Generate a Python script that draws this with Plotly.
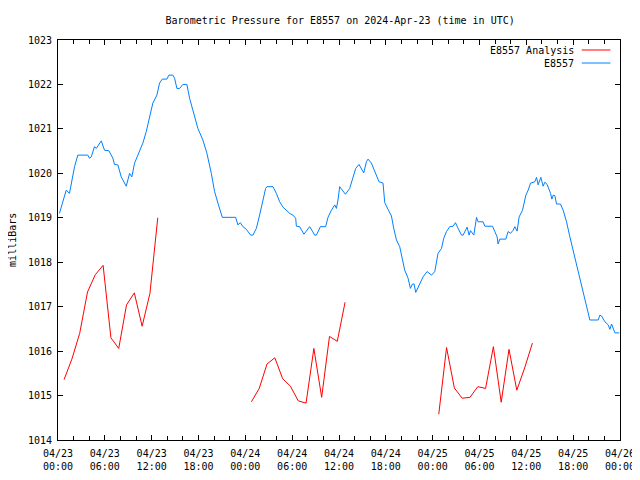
import pandas as pd
import plotly.graph_objects as go

base = pd.Timestamp("2024-04-23 00:00")

# E8557 observed pressure (hours since 04/23 00:00 UTC, mbar)
obs_hours = [0.19, 0.62, 1.05, 1.47, 1.69, 2.12, 2.54, 3.82, 4.04, 4.26, 4.68, 4.90, 5.54, 5.96,
             6.51, 7.03, 7.24, 7.67, 8.10, 8.74, 9.17, 9.46, 9.81, 10.23, 10.87, 11.31, 11.73,
             12.15, 12.67, 13.01, 13.36, 13.95, 14.21, 14.72, 14.94, 15.23, 15.58, 16.0, 16.51,
             16.86, 17.28, 17.92, 18.56, 19.08, 19.64, 20.06, 20.49, 21.05, 22.76, 23.05, 23.36,
             23.69, 24.13, 24.68, 24.97, 25.41, 25.83, 26.26, 26.60, 26.77, 27.54, 27.97, 28.40,
             28.82, 29.26, 29.68, 30.10, 30.45, 30.54, 30.96, 31.51, 31.82, 32.24, 32.59, 32.88,
             33.10, 33.62, 34.29, 34.59, 35.03, 35.45, 35.67, 35.87, 36.09, 36.51, 36.82, 37.37,
             37.79, 38.14, 38.56, 38.74, 39.17, 39.51, 39.72, 40.15, 40.58, 41.13, 41.64, 41.86,
             42.28, 42.72, 43.01, 43.36, 43.78, 44.13, 44.42, 44.85, 45.15, 45.41, 45.62, 45.83,
             46.35, 46.77, 47.28, 47.85, 48.27, 48.49, 48.69, 49.13, 49.42, 49.77, 50.19, 50.62,
             50.92, 51.26, 51.69, 51.90, 52.41, 52.67, 52.85, 53.27, 53.62, 53.82, 54.46, 54.68,
             55.67, 55.96, 56.26, 56.38, 56.60, 57.37, 57.67, 57.97, 58.31, 58.53, 58.82, 59.08,
             59.51, 59.94, 60.23, 60.54, 61.09, 61.31, 61.51, 61.86, 62.15, 62.37, 62.67, 63.10,
             63.27, 63.44, 63.65, 63.87, 64.38, 64.72, 65.15, 65.58, 66.0, 66.44, 66.86, 67.28,
             67.72, 68.14, 69.21, 69.42, 69.64, 70.06, 70.49, 70.71, 70.92, 71.35, 71.90]
obs_mbar = [1019.10, 1019.36, 1019.62, 1019.55, 1019.78, 1020.15, 1020.41, 1020.41, 1020.34,
            1020.37, 1020.60, 1020.56, 1020.73, 1020.52, 1020.51, 1020.34, 1020.20, 1020.19,
            1019.92, 1019.71, 1020.00, 1019.92, 1020.23, 1020.41, 1020.68, 1020.94, 1021.27,
            1021.58, 1021.76, 1022.03, 1022.12, 1022.12, 1022.21, 1022.21, 1022.14, 1021.91,
            1021.91, 1022.00, 1022.00, 1021.69, 1021.42, 1021.01, 1020.75, 1020.45, 1020.00,
            1019.59, 1019.33, 1019.01, 1019.01, 1018.84, 1018.89, 1018.80, 1018.74, 1018.61,
            1018.61, 1018.76, 1019.06, 1019.40, 1019.66, 1019.70, 1019.70, 1019.55, 1019.36,
            1019.24, 1019.17, 1019.10, 1019.06, 1018.99, 1018.81, 1018.80, 1018.63, 1018.70,
            1018.80, 1018.70, 1018.61, 1018.61, 1018.80, 1018.80, 1019.01, 1019.17, 1019.29,
            1019.21, 1019.40, 1019.70, 1019.60, 1019.53, 1019.66, 1019.92, 1020.11, 1020.20,
            1020.15, 1020.01, 1020.26, 1020.32, 1020.23, 1020.04, 1019.81, 1019.78, 1019.34,
            1019.19, 1019.04, 1018.76, 1018.50, 1018.35, 1018.01, 1017.82, 1017.64, 1017.41,
            1017.51, 1017.51, 1017.32, 1017.51, 1017.67, 1017.79, 1017.71, 1017.79, 1018.05,
            1018.20, 1018.31, 1018.54, 1018.69, 1018.80, 1018.81, 1018.89, 1018.76, 1018.61,
            1018.61, 1018.79, 1018.61, 1018.71, 1018.61, 1019.01, 1018.91, 1018.91, 1018.81,
            1018.81, 1018.69, 1018.57, 1018.41, 1018.52, 1018.52, 1018.69, 1018.65, 1018.72,
            1018.80, 1018.70, 1019.02, 1019.17, 1019.51, 1019.62, 1019.78, 1019.81, 1019.91,
            1019.74, 1019.91, 1019.71, 1019.80, 1019.75, 1019.55, 1019.42, 1019.51, 1019.50,
            1019.31, 1019.31, 1019.17, 1018.91, 1018.57, 1018.27, 1017.90, 1017.60, 1017.34,
            1017.04, 1016.70, 1016.70, 1016.81, 1016.79, 1016.66, 1016.59, 1016.49, 1016.61,
            1016.41, 1016.41]

# E8557 Analysis (None = gap between runs)
ana_hours = [0.78, 1.78, 2.78, 3.78, 4.78, 5.78, 6.78, 7.78, 8.78, 9.78, 10.78, 11.78, 12.78, None,
             24.78, 25.78, 26.78, 27.78, 28.78, 29.78, 30.78, 31.78, 32.78, 33.78, 34.78, 35.78, 36.78, None,
             48.78, 49.78, 50.78, 51.78, 52.78, 53.78, 54.78, 55.78, 56.78, 57.78, 58.78, 59.78, 60.78]
ana_mbar = [1015.36, 1015.82, 1016.40, 1017.33, 1017.72, 1017.93, 1016.30, 1016.06, 1017.04, 1017.31,
            1016.56, 1017.30, 1019.00, None,
            1014.86, 1015.16, 1015.71, 1015.85, 1015.38, 1015.21, 1014.88, 1014.83, 1016.06, 1014.96,
            1016.33, 1016.22, 1017.10, None,
            1014.58, 1016.08, 1015.17, 1014.94, 1014.96, 1015.20, 1015.16, 1016.10, 1014.85, 1016.04,
            1015.12, 1015.62, 1016.18]

series_names = ["E8557 Analysis", "E8557"]
series_colors = ["#ff0000", "#0080ff"]

def to_time(h):
    return None if h is None else base + pd.Timedelta(hours=h)

obs_t = [to_time(h) for h in obs_hours]
ana_t = [to_time(h) for h in ana_hours]

FONT = "DejaVu Sans Mono"

fig = go.Figure()
fig.add_trace(go.Scatter(x=ana_t, y=ana_mbar, mode="lines", name=series_names[0],
                         line=dict(color=series_colors[0], width=1), connectgaps=False))
fig.add_trace(go.Scatter(x=obs_t, y=obs_mbar, mode="lines", name=series_names[1],
                         line=dict(color=series_colors[1], width=1)))

# gnuplot-style key: text right-aligned, line sample to its right
key_y = [0.975, 0.9425]
for name, color, ky in zip(series_names, series_colors, key_y):
    fig.add_annotation(x=0.921, y=ky, xref="paper", yref="paper", text=name, showarrow=False,
                       xanchor="right", yanchor="middle", font=dict(family=FONT, size=10, color="black"))
    fig.add_shape(type="line", xref="paper", yref="paper", x0=0.932, x1=0.983, y0=ky, y1=ky,
                  line=dict(color=color, width=1))

fig.add_annotation(x=-0.082, y=0.5, xref="paper", yref="paper", text="milliBars", showarrow=False,
                   textangle=-90, xanchor="center", yanchor="middle",
                   font=dict(family=FONT, size=10, color="black"))

# the page body adds an 8px offset; margins compensate so the plot box sits at 58..620 x 40..440
fig.update_layout(
    width=640, height=480,
    margin=dict(l=50, r=28, t=32, b=48, autoexpand=False),
    paper_bgcolor="white", plot_bgcolor="white",
    showlegend=False,
    title=dict(text="Barometric Pressure for E8557 on 2024-Apr-23 (time in UTC)",
               x=0.519, xanchor="center", y=0.975, yanchor="middle",
               font=dict(family=FONT, size=10, color="black")),
    font=dict(family=FONT, size=10, color="black"),
)
fig.update_xaxes(
    type="date", automargin=False,
    range=[base, base + pd.Timedelta(hours=72)],
    tick0=base, dtick=6 * 3600000,
    tickformat="%m/%d<br>%H:%M",
    ticks="inside", ticklen=5, tickcolor="black",
    ticklabelstandoff=4,
    showline=True, linecolor="black", linewidth=1, mirror="ticks",
    showgrid=False, zeroline=False,
    minor=dict(dtick=2 * 3600000, ticks="inside", ticklen=4, tickcolor="black", showgrid=False),
    tickfont=dict(family=FONT, size=10, color="black"),
)
fig.update_yaxes(
    automargin=False,
    range=[1014, 1023], dtick=1, tick0=1014,
    ticks="inside", ticklen=5, tickcolor="black",
    ticklabelstandoff=3,
    showline=True, linecolor="black", linewidth=1, mirror="ticks",
    showgrid=False, zeroline=False,
    tickformat="d",
    tickfont=dict(family=FONT, size=10, color="black"),
)

fig.write_html("out.html")
